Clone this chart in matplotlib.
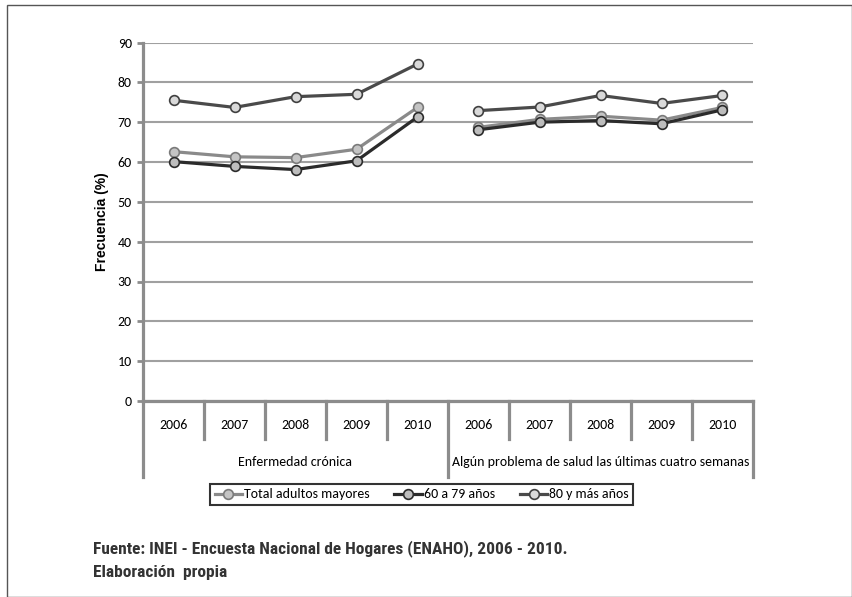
import matplotlib
matplotlib.use("Agg")
import matplotlib.pyplot as plt
from matplotlib import font_manager, transforms
from matplotlib.lines import Line2D
from matplotlib.patches import Rectangle

years = ["2006", "2007", "2008", "2009", "2010"]
groups = ["Enfermedad crónica", "Algún problema de salud las últimas cuatro semanas"]

total_cronica = [62.6, 61.3, 61.1, 63.2, 73.7]
total_salud = [68.7, 70.7, 71.5, 70.5, 73.7]
a60_cronica = [60.1, 58.9, 58.1, 60.3, 71.3]
a60_salud = [68.1, 70.0, 70.4, 69.6, 73.1]
a80_cronica = [75.5, 73.7, 76.4, 77.0, 84.6]
a80_salud = [72.9, 73.8, 76.7, 74.7, 76.7]

series_names = ["Total adultos mayores", "60 a 79 años", "80 y más años"]


def pick(*names):
    avail = {f.name for f in font_manager.fontManager.ttflist}
    for n in names:
        if n in avail:
            return n
    return "DejaVu Sans"


body_font = pick("Carlito", "Calibri", "Lato", "Open Sans")
narrow_font = pick("Liberation Sans Narrow", "Arial Narrow", "DejaVu Sans Condensed", "Roboto Condensed", "Liberation Sans")
arial = pick("Liberation Sans", "Arial")
plt.rcParams["font.family"] = [body_font, "DejaVu Sans"]

W, H = 853, 597
fig = plt.figure(figsize=(W / 100, H / 100), dpi=100)
ax = fig.add_axes([143 / W, 1 - 401 / H, (753 - 143) / W, (401 - 42.5) / H])

axis_grey = "#8c8c8c"
styles = [
    dict(color="#8a8a8a", mfc="#c4c4c4", mec="#7a7a7a"),
    dict(color="#2b2b2b", mfc="#bdbdbd", mec="#2b2b2b"),
    dict(color="#4a4a4a", mfc="#d9d9d9", mec="#404040"),
]
data = [(total_cronica, total_salud), (a60_cronica, a60_salud), (a80_cronica, a80_salud)]

xs_left = list(range(len(years)))
xs_right = [i + len(years) for i in range(len(years))]
for (left, right), st in zip(data, styles):
    for xs, ys in ((xs_left, left), (xs_right, right)):
        ax.plot(xs, ys, color=st["color"], lw=2.3, marker="o", ms=7,
                mfc=st["mfc"], mec=st["mec"], mew=1.2, zorder=3)

ax.set_xlim(-0.5, 9.5)
ax.set_ylim(0, 90)
ax.set_yticks(range(0, 91, 10))
ax.yaxis.grid(True, color="#a0a0a0", lw=1.5)
ax.set_axisbelow(True)
for s in ("top", "right"):
    ax.spines[s].set_visible(False)
for s in ("left", "bottom"):
    ax.spines[s].set_color(axis_grey)
    ax.spines[s].set_linewidth(2.3)
ax.tick_params(axis="y", length=4, width=2, color=axis_grey, labelsize=10, pad=4)
ax.set_xticks(xs_left + xs_right)
ax.set_xticklabels(years + years)
ax.tick_params(axis="x", length=0, labelsize=10, pad=13)
ax.set_ylabel("Frecuencia (%)", fontsize=10, fontweight="bold", family=arial, labelpad=6)

# category table under the axis
tr = transforms.blended_transform_factory(ax.transData, ax.transAxes)
short_y = -(439 - 401) / 358.5
long_y = -(477 - 401) / 358.5
for i in range(11):
    xb = i - 0.5
    y_end = long_y if i in (0, 5, 10) else short_y
    ax.add_line(Line2D([xb, xb], [0, y_end], transform=tr, color=axis_grey,
                       lw=2.3, clip_on=False))
group_y = -(462 - 401) / 358.5
ax.text(2, group_y, groups[0], transform=tr, ha="center", va="center", fontsize=10)
ax.text(7, group_y, groups[1], transform=tr, ha="center", va="center", fontsize=10)

handles = [Line2D([], [], color=st["color"], lw=2.3, marker="o", ms=7,
                  mfc=st["mfc"], mec=st["mec"], mew=1.2) for st in styles]
leg = fig.legend(handles, series_names, loc="center", ncol=3,
                 bbox_to_anchor=(421.5 / W, 1 - 494.5 / H), frameon=True,
                 fancybox=False, edgecolor="black", fontsize=10, handlelength=2.0,
                 handletextpad=0.1, columnspacing=1.8, borderpad=0.3)
leg.get_frame().set_linewidth(1.5)

fig.text(93 / W, 1 - 549 / H, "Fuente: INEI - Encuesta Nacional de Hogares (ENAHO), 2006 - 2010.",
         family=narrow_font, fontweight="bold", fontsize=12.5, va="center", color="#333333")
fig.text(93 / W, 1 - 573 / H, "Elaboración  propia",
         family=narrow_font, fontweight="bold", fontsize=12.5, va="center", color="#333333")

fig.patches.append(Rectangle((7 / W, 0.5 / H), (W - 7.5) / W, (H - 5.5) / H,
                             transform=fig.transFigure, fill=False,
                             edgecolor="#555555", lw=1))

fig.savefig("out.png", dpi=100)
